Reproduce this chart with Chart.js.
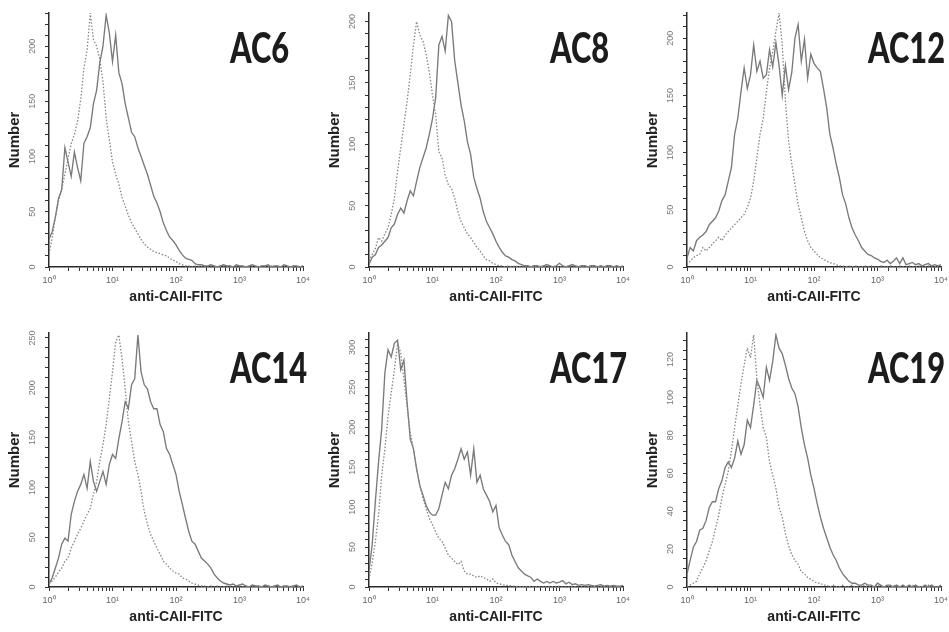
<!DOCTYPE html>
<html>
<head>
<meta charset="utf-8">
<script src="https://cdn.jsdelivr.net/npm/chart.js@4/dist/chart.umd.min.js"></script>
<style>
  html, body { margin: 0; padding: 0; background: #fff; overflow: hidden; width: 949px; height: 632px; }
  .panel { position: absolute; width: 316px; height: 312px; }
</style>
</head>
<body>
<div class="panel" style="left:0px;top:0px"><canvas id="c0" width="316" height="312"></canvas></div>
<div class="panel" style="left:320px;top:0px"><canvas id="c1" width="316" height="312"></canvas></div>
<div class="panel" style="left:638px;top:0px"><canvas id="c2" width="316" height="312"></canvas></div>
<div class="panel" style="left:0px;top:320px"><canvas id="c3" width="316" height="312"></canvas></div>
<div class="panel" style="left:320px;top:320px"><canvas id="c4" width="316" height="312"></canvas></div>
<div class="panel" style="left:638px;top:320px"><canvas id="c5" width="316" height="312"></canvas></div>
<script>
// ---------- DATA ----------
// channel positions, in decades (x = 10^decade)
const decades = [0,0.05,0.1,0.15,0.2,0.25,0.3,0.35,0.4,0.45,0.5,0.55,0.6,0.65,0.7,0.75,0.8,0.85,0.9,0.95,
  1,1.05,1.1,1.15,1.2,1.25,1.3,1.35,1.4,1.45,1.5,1.55,1.6,1.65,1.7,1.75,1.8,1.85,1.9,1.95,
  2,2.05,2.1,2.15,2.2,2.25,2.3,2.35,2.4,2.45,2.5,2.55,2.6,2.65,2.7,2.75,2.8,2.85,2.9,2.95,
  3,3.05,3.1,3.15,3.2,3.25,3.3,3.35,3.4,3.45,3.5,3.55,3.6,3.65,3.7,3.75,3.8,3.85,3.9,3.95,4];

const panelNames = ['AC6','AC8','AC12','AC14','AC17','AC19'];
const xTickLabels = ['10\u2070','10\u00b9','10\u00b2','10\u00b3','10\u2074'];
const yMax = [230,207,222,255,318,134];
const yStep = [10,10,10,10,10,5];
const yLabelEvery = [50,50,50,50,50,20];
const xTitle = 'anti-CAII-FITC';
const yTitle = 'Number';

// stained (solid) histograms
const ac6Solid = [25,32,45,62,70,108,95,82,104,90,
  78,112,118,126,148,160,185,200,228,212,
  186,210,176,166,148,135,122,118,108,100,
  92,84,74,64,58,50,40,33,27,24,
  20,15,11,8,7,6,3,2,2,1,
  1,2,1,0,1,2,1,1,0,2,
  1,1,0,1,2,1,0,1,1,2,
  0,1,1,0,2,1,0,1,1,0,1];
const ac8Solid = [2,8,10,16,18,21,24,32,35,43,
  48,44,54,62,58,70,81,89,97,108,
  121,138,181,188,176,205,200,168,150,132,
  119,102,92,73,64,56,45,37,32,27,
  21,16,12,9,8,6,5,3,2,1,
  1,0,1,1,0,1,2,1,0,1,
  3,1,0,1,2,1,0,1,1,0,
  1,1,0,1,0,1,1,0,1,0,1];
const ac12Solid = [8,17,14,23,26,28,31,37,40,43,
  49,58,63,75,87,116,130,153,174,156,
  168,194,171,180,165,168,190,175,196,176,
  150,176,155,170,200,212,180,199,165,186,
  178,174,171,156,139,116,104,90,78,63,
  55,43,34,28,23,17,14,11,10,8,
  7,5,4,6,3,5,8,3,8,2,
  3,4,2,3,1,2,3,1,2,1,2];
const ac14Solid = [3,9,19,29,43,49,46,73,86,96,
  103,113,99,126,106,96,106,116,103,123,
  133,129,149,166,186,179,203,209,253,216,
  203,199,186,179,179,163,156,139,133,123,
  113,96,83,69,56,46,43,36,29,26,
  23,19,13,9,6,4,3,2,3,1,
  2,3,1,0,2,1,1,0,2,1,
  0,1,2,0,1,1,0,1,2,0,1];
const ac17Solid = [20,53,107,156,198,268,297,288,305,309,
  272,284,231,185,173,148,127,115,102,94,
  90,90,98,115,131,123,140,148,160,173,
  160,169,140,173,131,140,123,115,107,94,
  102,74,65,57,53,40,32,24,20,16,
  14,12,7,10,7,5,7,5,7,5,
  6,8,4,6,3,4,2,3,2,3,
  2,1,2,3,1,2,1,2,1,1,2];
const ac19Solid = [7,14,21,24,30,31,35,42,45,45,
  52,56,63,66,63,68,77,70,75,88,
  84,96,109,105,100,116,109,119,133,126,
  123,117,110,105,102,95,84,75,68,59,
  52,44,37,31,26,21,17,14,10,7,
  5,3,2,2,1,1,2,1,1,0,
  2,1,0,1,1,0,1,0,1,0,
  1,0,1,0,0,1,0,1,0,0,1];

// control (dotted) histograms
const ac6Control = [12,26,45,60,70,84,98,112,120,132,
  152,180,196,230,206,200,188,168,135,115,
  95,84,75,63,55,47,40,35,30,25,
  21,18,16,14,13,12,11,10,8,6,
  5,3,2,1,1,0,1,0,0,1,
  0,1,0,0,1,0,0,1,0,0,
  1,0,0,1,0,0,0,1,0,0,
  1,0,0,0,1,0,0,1,0,0,1];
const ac8Control = [5,10,15,24,21,27,32,43,56,78,
  97,116,135,157,181,200,189,184,173,159,
  140,124,94,89,75,67,64,56,45,37,
  32,27,24,20,16,13,9,6,5,3,
  2,1,1,0,1,0,1,0,0,1,
  0,0,1,0,0,1,0,0,0,1,
  0,0,1,0,0,0,1,0,0,0,
  1,0,0,0,0,1,0,0,0,0,0];
const ac12Control = [2,5,8,10,11,17,14,17,20,23,
  26,23,28,31,34,37,40,43,46,52,
  60,75,95,116,130,153,174,188,206,222,
  194,145,110,90,72,55,43,31,23,17,
  14,11,8,7,5,4,3,2,1,1,
  0,1,0,1,0,0,1,0,1,0,
  0,1,0,0,1,0,0,1,0,0,
  1,0,0,1,0,0,1,0,0,1,0];
const ac14Control = [3,6,10,15,19,26,29,39,46,53,
  59,66,73,79,93,106,126,143,163,189,
  216,246,253,229,199,166,146,126,113,96,
  76,63,53,46,39,33,26,23,19,16,
  14,13,9,8,6,4,3,2,1,1,
  0,1,0,1,0,0,1,0,0,1,
  0,0,1,0,0,1,0,0,0,1,
  0,0,1,0,0,0,1,0,0,0,0];
const ac17Control = [10,30,57,90,140,173,214,243,272,305,
  293,260,226,193,173,148,127,111,98,86,
  78,69,61,57,49,40,36,32,28,32,
  20,16,16,14,12,14,12,10,7,10,
  5,4,3,2,2,1,1,0,1,0,
  1,0,0,1,0,0,0,1,0,0,
  1,0,0,0,1,0,0,0,0,1,
  0,0,0,1,0,0,0,0,1,0,0];
const ac19Control = [0,1,2,3,7,10,14,19,24,31,
  38,47,54,61,72,84,96,107,117,126,
  121,133,110,96,84,79,66,59,52,42,
  37,28,22,17,14,12,8,7,5,4,
  3,2,2,1,1,0,1,0,0,1,
  0,0,1,0,0,0,1,0,0,0,
  1,0,0,0,0,1,0,0,0,0,
  0,1,0,0,0,0,1,0,0,0,0];

const solidSeries = [ac6Solid, ac8Solid, ac12Solid, ac14Solid, ac17Solid, ac19Solid];
const controlSeries = [ac6Control, ac8Control, ac12Control, ac14Control, ac17Control, ac19Control];

// ---------- RENDER ----------
Chart.defaults.font.family = '"Liberation Sans", Arial, sans-serif';

const panelLabelPlugin = {
  id: 'panelLabel',
  afterDraw(chart, args, opts) {
    const ctx = chart.ctx;
    ctx.save();
    ctx.font = '900 42px Lato, "Open Sans", sans-serif';
    const sx = 77 / ctx.measureText('AC14').width;
    ctx.translate(opts.x, opts.y);
    ctx.scale(sx, 1);
    ctx.fillStyle = '#1c1c1c';
    ctx.textAlign = 'left';
    ctx.textBaseline = 'alphabetic';
    ctx.fillText(opts.text, 0, 0);
    ctx.restore();
  }
};

function toPoints(vals) {
  return decades.map((d, i) => ({ x: Math.pow(10, d), y: vals[i] }));
}

panelNames.forEach((name, p) => {
  const ctx = document.getElementById('c' + p);
  new Chart(ctx, {
    type: 'line',
    data: {
      datasets: [
        {
          label: name + ' control',
          data: toPoints(controlSeries[p]),
          borderColor: '#858585',
          borderWidth: 1.3,
          borderDash: [1.5, 1.8],
          pointRadius: 0,
          tension: 0,
          fill: false
        },
        {
          label: name,
          data: toPoints(solidSeries[p]),
          borderColor: '#7a7a7a',
          borderWidth: 1.35,
          pointRadius: 0,
          tension: 0,
          fill: false
        }
      ]
    },
    options: {
      responsive: false,
      animation: false,
      devicePixelRatio: 1,
      layout: { padding: { top: 13, right: 13, left: 0, bottom: 0 } },
      plugins: {
        legend: { display: false },
        tooltip: { enabled: false },
        panelLabel: { text: name, x: 230, y: 63 }
      },
      scales: {
        x: {
          type: 'logarithmic',
          min: 1,
          max: 10000,
          afterFit: (s) => { s.height = 45; },
          border: { display: true, color: '#2b2b2b', width: 1.5 },
          grid: { display: true, drawOnChartArea: false, drawTicks: true, tickLength: 4, color: '#333', lineWidth: 1 },
          ticks: {
            autoSkip: false,
            maxRotation: 0,
            minRotation: 0,
            padding: 4,
            color: '#666',
            font: { size: 9 },
            callback: (v) => {
              const e = Math.round(Math.log10(v));
              return Math.abs(Math.pow(10, e) - v) < 1e-6 ? xTickLabels[e] : '';
            }
          },
          title: {
            display: true,
            text: xTitle,
            color: '#222',
            font: { size: 14, weight: 'bold' },
            padding: { top: 0, bottom: 6 }
          }
        },
        y: {
          type: 'linear',
          min: 0,
          max: yMax[p],
          afterFit: (s) => { s.width = 49; },
          border: { display: true, color: '#2b2b2b', width: 1.5 },
          grid: { display: true, drawOnChartArea: false, drawTicks: true, tickLength: 4, color: '#333', lineWidth: 1 },
          ticks: {
            stepSize: yStep[p],
            includeBounds: false,
            autoSkip: false,
            minRotation: 90,
            maxRotation: 90,
            crossAlign: 'center',
            padding: 5,
            color: '#777',
            font: { size: 9 },
            callback: (v) => (v % yLabelEvery[p] === 0 ? String(v) : '')
          },
          title: {
            display: true,
            text: yTitle,
            color: '#222',
            font: { size: 15, weight: 'bold' },
            padding: { top: 6, bottom: 0 }
          }
        }
      }
    },
    plugins: [panelLabelPlugin]
  });
});
</script>
</body>
</html>
